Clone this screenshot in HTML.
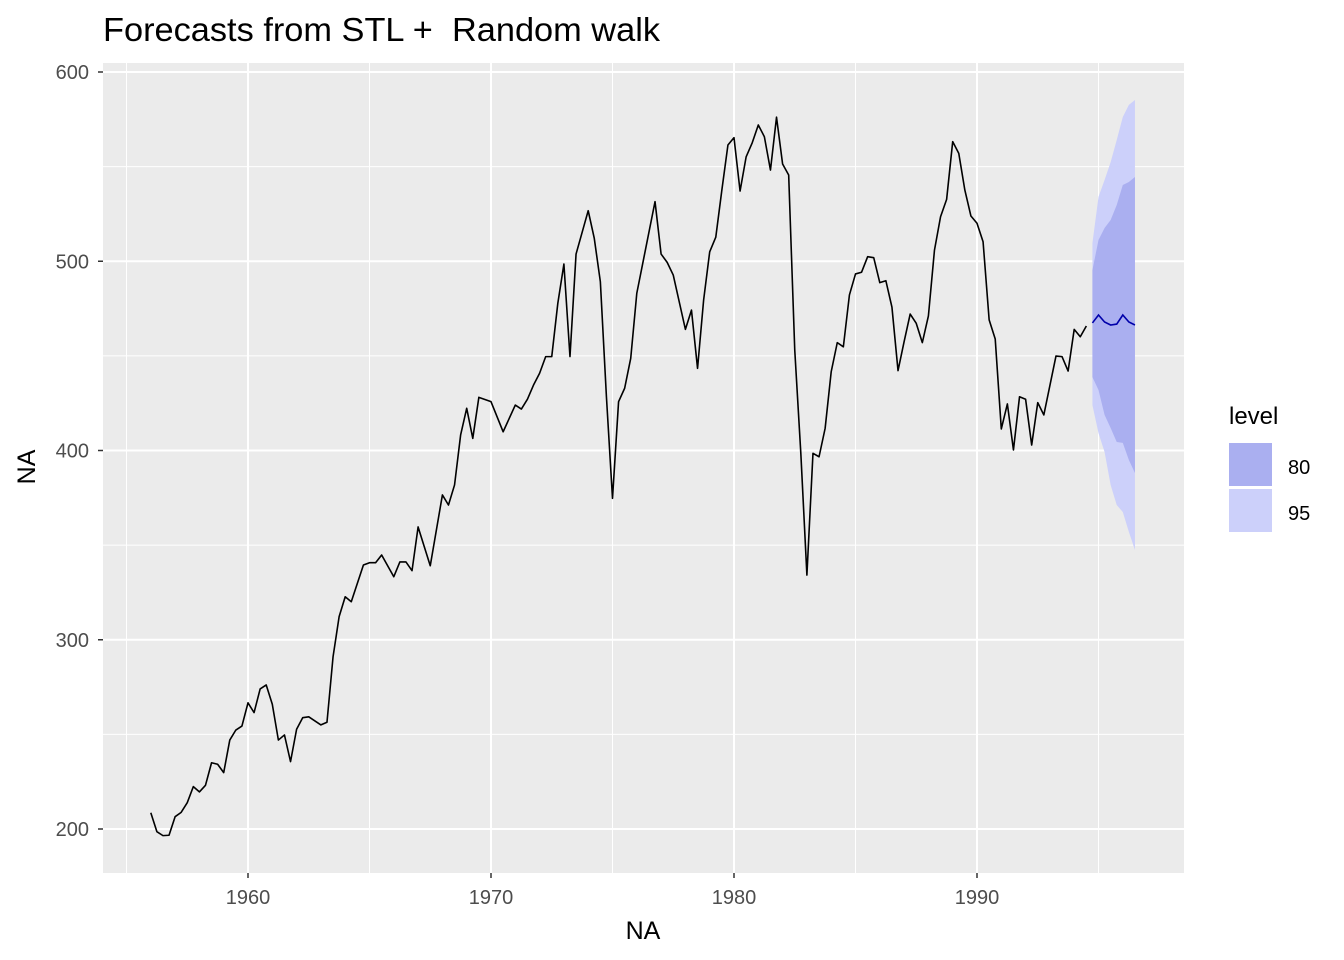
<!DOCTYPE html>
<html><head><meta charset="utf-8"><style>
html,body{margin:0;padding:0;background:#fff;}
svg{display:block;font-family:"Liberation Sans",Arial,sans-serif;}
</style></head><body>
<svg id="chart" width="1344" height="960" viewBox="0 0 1344 960" xmlns="http://www.w3.org/2000/svg">
<text x="103" y="41" font-size="33" textLength="557" lengthAdjust="spacingAndGlyphs" fill="#000">Forecasts from STL + &#160;Random walk</text>
<rect x="103" y="63" width="1081" height="810" fill="#ebebeb"/>
<g id="grid"></g>
<g id="bands"></g>
<g id="lines"></g>
<g id="axes"></g>
<text x="643" y="939" font-size="25" text-anchor="middle" fill="#000">NA</text>
<text transform="translate(35,467) rotate(-90)" font-size="25" text-anchor="middle" fill="#000">NA</text>
<g>
<text x="1229" y="424" font-size="24" fill="#000">level</text>
<rect x="1229" y="443" width="43" height="43" fill="#aaaff0"/>
<rect x="1229" y="489" width="43" height="43" fill="#ccd0fa"/>
<text x="1288" y="474" font-size="20" fill="#000">80</text>
<text x="1288" y="520" font-size="20" fill="#000">95</text>
</g>
</svg>
<script>
const startYear = 1956;
const quarters = [0,1,2,3,4,5,6,7,8,9,10,11,12,13,14,15,16,17,18,19,20,21,22,23,24,25,26,28,29,30,31,32,33,35,36,37,38,40,41,42,43,44,46,48,49,50,51,52,53,54,56,58,60,61,62,63,64,65,66,67,68,69,70,72,73,74,75,76,77,78,79,80,83,84,85,86,88,89,90,91,92,93,94,95,96,97,98,99,100,101,102,103,104,105,106,107,108,109,110,111,112,113,114,115,116,117,118,119,120,121,122,123,124,125,126,127,128,129,130,131,132,133,134,135,136,137,138,139,140,141,142,143,144,145,146,147,149,150,151,152,153,154];
const values = [208.6,198.6,196.5,196.7,206.5,208.8,213.9,222.4,219.6,223.1,235,234.2,229.8,247,252.3,254.4,266.7,261.5,274,276.1,265.9,247,249.7,235.6,252.7,258.8,259.3,255,256.4,291,312.2,322.7,320.1,339.5,340.7,340.7,344.8,333.3,341.1,341.1,336.5,359.6,339.1,376.5,371.2,381.8,408.2,422.3,406.4,428.1,425.8,409.9,424,421.9,427.1,434.6,440.8,449.6,449.6,477.8,498.5,449.6,503.8,526.7,512.1,489.2,428.4,374.7,425.8,432.9,448.7,483.1,531.5,503.8,499.4,492.7,464,474.2,443.4,479.5,505,512.7,537.6,561.4,565.3,537.1,555.2,562.6,572,565.8,548.2,576.1,551.4,545.6,453.1,398.5,334.2,398.5,396.7,411.7,441.6,457,454.8,482.2,493.3,494.2,502.4,501.9,488.7,489.7,475.7,442.2,457.5,472.1,467.2,457,471.1,505.9,523.5,532.7,563.2,557,537.6,523.9,520.1,510.3,469,458.9,411.4,424.6,400.3,428.4,427.1,402.9,425.3,418.8,449.9,449.6,442,464,460.1,465.8];
const fcQuarters = [155,156,157,158,159,160,161,162];
const fcMean = [467.4,471.6,467.9,466.3,466.8,471.6,467.9,466.3];
const lo80 = [438.8,432,418.8,411.9,404.5,404,395,388.1];
const hi80 = [495.4,511.2,517.6,521.8,529.7,540.3,541.9,544.5];
const lo95 = [424,409.2,399.2,381.8,371.2,367.5,357,347.4];
const hi95 = [509.6,534,542.9,552.4,564.1,576.2,582.6,585.2];
const xMajor = [1960,1970,1980,1990];
const xMinor = [1955,1965,1975,1985,1995];
const yMajor = [200,300,400,500,600];
const yMinor = [250,350,450,550];

const NS = "http://www.w3.org/2000/svg";
const X = yr => 248 + (yr - 1960) * 24.3;
const Y = v => 829 - (v - 200) * 1.8925;
const qYear = q => startYear + q / 4;
function mk(tag, attrs, parent) {
  const e = document.createElementNS(NS, tag);
  for (const k in attrs) e.setAttribute(k, attrs[k]);
  parent.appendChild(e);
  return e;
}
const grid = document.getElementById('grid');
const axes = document.getElementById('axes');
yMinor.forEach(v => {
  const l = mk('line', {x1:103, x2:1184, y1:Y(v), y2:Y(v), stroke:'#fff', 'stroke-width':1}, grid);
  
  
});
xMinor.forEach(v => {
  const l = mk('line', {x1:X(v), x2:X(v), y1:63, y2:873, stroke:'#fff', 'stroke-width':1}, grid);
  
  
});
yMajor.forEach(v => {
  const l = mk('line', {x1:103, x2:1184, y1:Y(v), y2:Y(v), stroke:'#fff', 'stroke-width':2}, grid);
  
  
  const t = mk('line', {x1:98, x2:103, y1:Y(v), y2:Y(v), stroke:'#333', 'stroke-width':1.5}, axes);
  
  
  const tx = mk('text', {x:89, y:Y(v)+7, 'font-size':20, fill:'#4d4d4d', 'text-anchor':'end'}, axes);
  tx.textContent = v;
  
  
});
xMajor.forEach(v => {
  const l = mk('line', {x1:X(v), x2:X(v), y1:63, y2:873, stroke:'#fff', 'stroke-width':2}, grid);
  
  
  const t = mk('line', {x1:X(v), x2:X(v), y1:873, y2:878, stroke:'#333', 'stroke-width':1.5}, axes);
  
  
  const tx = mk('text', {x:X(v), y:904, 'font-size':20, fill:'#4d4d4d', 'text-anchor':'middle'}, axes);
  tx.textContent = v;
  
  
});
const bands = document.getElementById('bands');
function band(lo, hi, fill, name) {
  let pts = fcQuarters.map((q,i) => X(qYear(q)) + ',' + Y(hi[i]));
  pts = pts.concat(fcQuarters.map((q,i) => X(qYear(q)) + ',' + Y(lo[i])).reverse());
  const p = mk('polygon', {points: pts.join(' '), fill: fill}, bands);
  
  
}
band(lo95, hi95, '#ccd0fa', 'band-95');
band(lo80, hi80, '#aaaff0', 'band-80');
const lines = document.getElementById('lines');
const hist = mk('polyline', {points: quarters.map((q,i) => X(qYear(q)) + ',' + Y(values[i])).join(' '), fill:'none', stroke:'#000', 'stroke-width':1.6, 'stroke-linejoin':'round'}, lines);


const fc = mk('polyline', {points: fcQuarters.map((q,i) => X(qYear(q)) + ',' + Y(fcMean[i])).join(' '), fill:'none', stroke:'#0000aa', 'stroke-width':1.6}, lines);


</script>
</body></html>
